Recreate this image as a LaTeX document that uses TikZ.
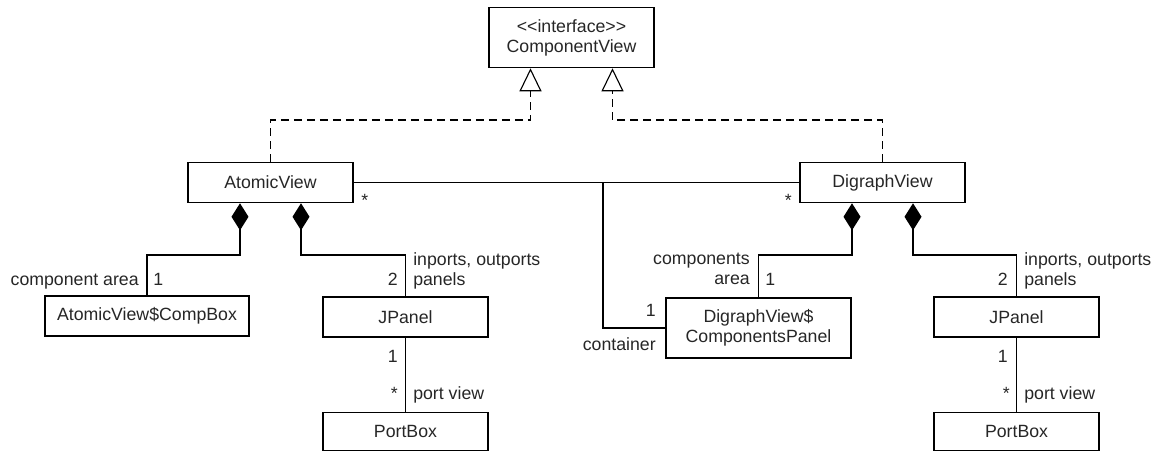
\documentclass[tikz,border=0pt]{standalone}
\usepackage{fontspec}
\setmainfont{Liberation Sans}
\usetikzlibrary{arrows.meta,positioning}

\begin{document}
\begin{tikzpicture}[x=0.025cm,y=-0.025cm]
            % Styles
            \tikzstyle{class}=[draw, line width=1.1pt, rectangle, minimum height=1cm, minimum width=4.125cm, text centered, font=\fontsize{12.6}{14.2}\selectfont, text=black!85]
            \tikzstyle{class2}=[class, minimum height=1.5cm, align=center]
            \tikzstyle{lbl}=[inner sep=0pt, font=\fontsize{12.6}{14.2}\selectfont, text=black!85]
            \tikzstyle{realize}=[line width=1.1pt, dash pattern=on 0.2cm off 0.125cm, -{Triangle[open, length=0.575cm, width=0.55cm, fill=white, line width=0.8pt]}]
            \tikzstyle{comp}=[line width=1.1pt, {Diamond[length=0.675cm, width=0.425cm]}-]
            \tikzstyle{assoc}=[line width=1.1pt]

            \useasboundingbox (0,0) rectangle (1161,452);

            % Nodes
            \node[class2] (compview) at (571.5,37.5) {<\kern0pt<interface>\kern0pt>\\ComponentView};
            \node[class] (atomic) at (270.5,182.5) {AtomicView};
            \node[class] (digraph) at (882.5,182.5) {DigraphView};
            \node[class, minimum width=5.1cm] (compbox) at (147,316) {AtomicView\$CompBox};
            \node[class] (jpanelA) at (405.5,317) {JPanel};
            \node[class, minimum height=0.95cm, below=1.85cm of jpanelA] (portboxA) {PortBox};
            \node[class2, minimum width=4.625cm] (panel) at (758.5,328) {DigraphView\$\\ComponentsPanel};
            \node[class] (jpanelD) at (1016.5,317) {JPanel};
            \node[class, minimum height=0.95cm, below=1.85cm of jpanelD] (portboxD) {PortBox};

            \coordinate (rlevel) at (0,120);
            \coordinate (clevel) at (0,255);
            \coordinate (junc) at (603,182.5);

            % Arrows
            \draw[realize] (atomic.north) -- (atomic.north |- rlevel) -| ([xshift=-1.025cm]compview.south);
            \draw[realize] (digraph.north) -- (digraph.north |- rlevel) -| ([xshift=1.025cm]compview.south);
            \draw[comp] ([xshift=-0.7625cm]atomic.south) |- (compbox.north |- clevel) -- (compbox.north);
            \draw[comp] ([xshift=0.7625cm]atomic.south) |- (jpanelA.north |- clevel) -- (jpanelA.north);
            \draw[comp] ([xshift=-0.7625cm]digraph.south) |- (panel.north |- clevel) -- (panel.north);
            \draw[comp] ([xshift=0.7625cm]digraph.south) |- (jpanelD.north |- clevel) -- (jpanelD.north);
            \draw[assoc] (atomic.east) -- (digraph.west);
            \draw[assoc] (junc) |- (panel.west);
            \draw[assoc] (jpanelA) -- (portboxA);
            \draw[assoc] (jpanelD) -- (portboxD);

            % Labels
            \node[lbl, anchor=base west] (starA) at (361,206) {*};
            \node[lbl, anchor=base east] (starD) at (792,206) {*};
            \node[lbl, anchor=base east] (areaA) at (139,285) {component area};
            \node[lbl, anchor=base west] (oneA) at (153,285) {1};
            \node[lbl, anchor=base east] (twoA) at (398,285) {2};
            \node[lbl, anchor=south west, align=left] (portsA) at (413,289) {inports, outports\\panels};
            \node[lbl, anchor=base east] (oneJA) at (398,362) {1};
            \node[lbl, anchor=base east] (starJA) at (398,399) {*};
            \node[lbl, anchor=base west] (viewA) at (413,399) {port view};
            \node[lbl, anchor=south east, align=right] (areaD) at (750,285) {components\\area};
            \node[lbl, anchor=base west] (oneD) at (765,285) {1};
            \node[lbl, anchor=base east] (oneC) at (656,316) {1};
            \node[lbl, anchor=base east] (contC) at (656,350) {container};
            \node[lbl, anchor=base east] (twoD) at (1008,285) {2};
            \node[lbl, anchor=south west, align=left] (portsD) at (1024,289) {inports, outports\\panels};
            \node[lbl, anchor=base east] (oneJD) at (1008,362) {1};
            \node[lbl, anchor=base east] (starJD) at (1010,399) {*};
            \node[lbl, anchor=base west] (viewD) at (1024,399) {port view};
      \end{tikzpicture}
\end{document}
